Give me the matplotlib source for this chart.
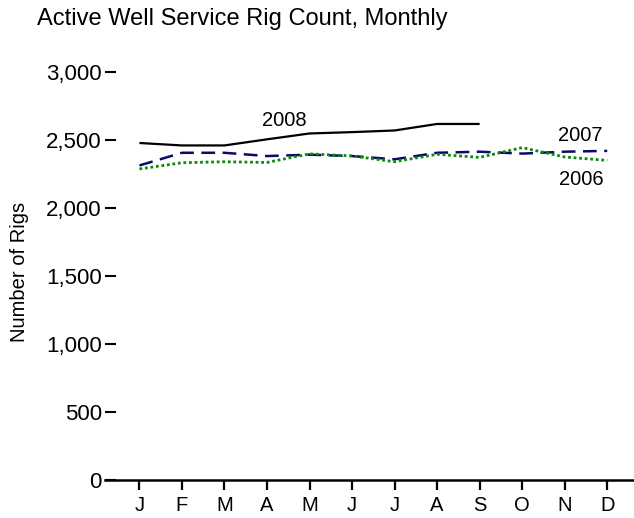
import matplotlib
matplotlib.use("Agg")
import matplotlib.pyplot as plt
from matplotlib.ticker import FuncFormatter

plt.rcParams['font.family'] = ['Liberation Sans', 'DejaVu Sans']

months = ["J", "F", "M", "A", "M", "J", "J", "A", "S", "O", "N", "D"]
rigs_2008 = [2478, 2460, 2460, 2505, 2548, 2558, 2570, 2618, 2618]
rigs_2007 = [2313, 2406, 2406, 2382, 2392, 2382, 2358, 2406, 2414, 2400, 2414, 2420]
rigs_2006 = [2287, 2333, 2340, 2335, 2398, 2383, 2340, 2395, 2372, 2444, 2375, 2350]
yticks = [0, 500, 1000, 1500, 2000, 2500, 3000]

W, H = 634, 518
fig = plt.figure(figsize=(W / 100, H / 100), dpi=100)
ax = fig.add_axes([105 / W, 38 / H, 1 - 105 / W, 0.8139])

x_all = list(range(len(months)))
ax.plot(x_all[:len(rigs_2008)], rigs_2008, color="black", lw=1.6, solid_capstyle="butt")
ax.plot(x_all, rigs_2007, color="#0b0b66", lw=1.8, dashes=(5.5, 3.0))
ax.plot(x_all, rigs_2006, color="#0a8a0a", lw=2.0, dashes=(1, 1))

ax.set_xlim(-0.81, 11.63)
ax.set_ylim(0, 3100)
ax.set_xticks(x_all)
ax.set_xticklabels(months, fontsize=14.5)
ax.set_yticks(yticks)
ax.yaxis.set_major_formatter(FuncFormatter(lambda v, p: f"{int(v):,}"))

for s in ["left", "right", "top"]:
    ax.spines[s].set_visible(False)
ax.spines["bottom"].set_linewidth(1.8)
ax.tick_params(axis="x", direction="out", length=7.2, width=1.6, pad=4)
ax.tick_params(axis="y", direction="in", length=7.9, width=1.5, pad=2.3, labelsize=16)
ax.patch.set_alpha(0)

ax.text(3.4, 2647, "2008", fontsize=14.5, ha="center", va="center")
ax.text(10.36, 2533, "2007", fontsize=14.5, ha="center", va="center")
ax.text(10.4, 2206, "2006", fontsize=14.5, ha="center", va="center")

fig.text(37 / W, (H - 25) / H, "Active Well Service Rig Count, Monthly",
         fontsize=17, ha="left", va="baseline")
fig.text(20 / W, (H - 272) / H, "Number of Rigs", fontsize=14.5,
         rotation=90, ha="center", va="center")

fig.savefig("out.png", dpi=100)
